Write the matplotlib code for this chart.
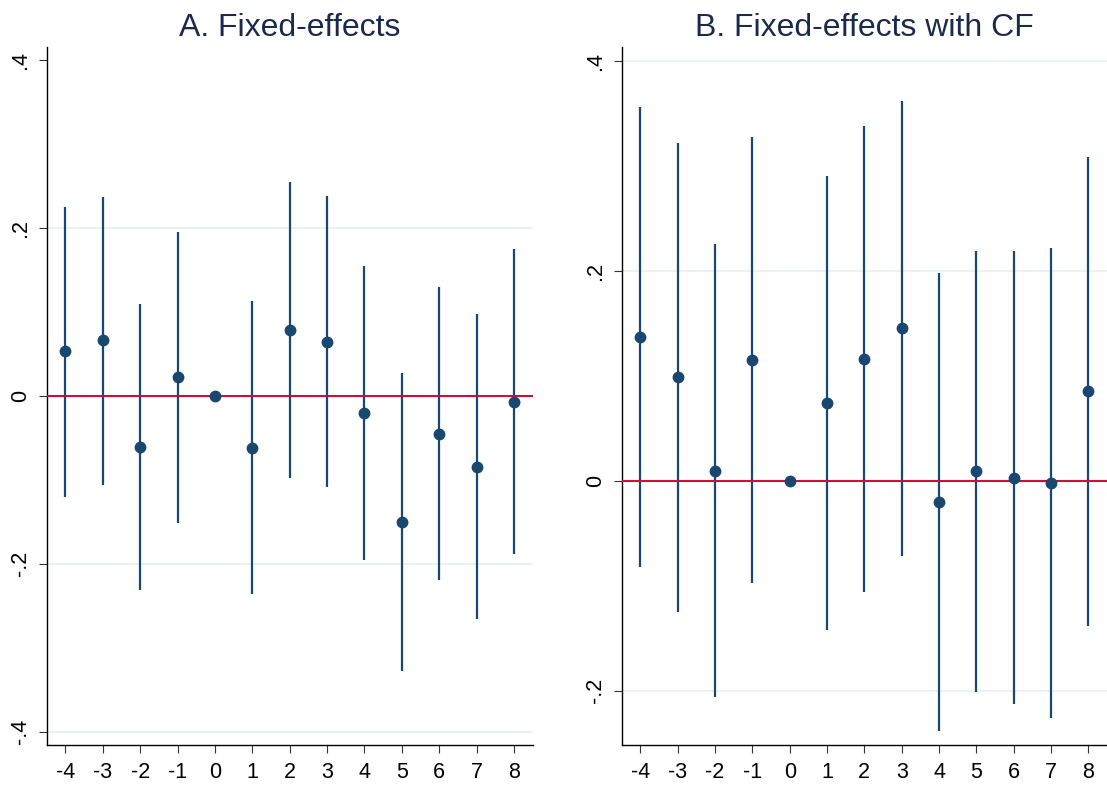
import matplotlib
matplotlib.use('Agg')
import matplotlib.pyplot as plt

plt.rcParams['font.family'] = ['Liberation Sans', 'DejaVu Sans']

# event time
periods = [-4, -3, -2, -1, 0, 1, 2, 3, 4, 5, 6, 7, 8]

# A. Fixed-effects
a_coef = [0.053, 0.066, -0.061, 0.023, 0.0, -0.062, 0.079, 0.064, -0.021, -0.150, -0.045, -0.085, -0.007]
a_lo = [-0.120, -0.106, -0.231, -0.151, 0.0, -0.236, -0.098, -0.109, -0.195, -0.328, -0.219, -0.266, -0.188]
a_hi = [0.225, 0.237, 0.110, 0.195, 0.0, 0.113, 0.255, 0.238, 0.155, 0.027, 0.130, 0.097, 0.175]

# B. Fixed-effects with CF
b_coef = [0.137, 0.099, 0.009, 0.115, 0.0, 0.074, 0.116, 0.145, -0.020, 0.009, 0.003, -0.002, 0.085]
b_lo = [-0.082, -0.125, -0.206, -0.097, 0.0, -0.142, -0.106, -0.072, -0.238, -0.201, -0.213, -0.226, -0.138]
b_hi = [0.356, 0.322, 0.225, 0.327, 0.0, 0.290, 0.338, 0.362, 0.198, 0.219, 0.219, 0.222, 0.308]

a_ticks = [-0.4, -0.2, 0, 0.2, 0.4]
a_ticklabels = ['-.4', '-.2', '0', '.2', '.4']
b_ticks = [-0.2, 0, 0.2, 0.4]
b_ticklabels = ['-.2', '0', '.2', '.4']

navy = '#1a476f'
red = '#c8103a'
grid_col = '#eaf1f3'
title_col = '#1b2a4c'

W, H = 1107, 787
fig = plt.figure(figsize=(W / 100, H / 100), dpi=100)
ax1 = fig.add_axes([46.7 / W, (H - 745) / H, 486 / W, 698.3 / H])
ax2 = fig.add_axes([621.7 / W, (H - 745) / H, 485.3 / W, 698.3 / H])


def draw_panel(ax, coef, lo, hi, ticks, ticklabels, grids, ylim, title):
    for g in grids:
        ax.axhline(g, color=grid_col, lw=1.3, zorder=0)
    ax.vlines(periods, lo, hi, color=navy, lw=1.6, zorder=2)
    ax.axhline(0, color=red, lw=1.5, zorder=3)
    ax.plot(periods, coef, 'o', color=navy, ms=7.5, zorder=4)

    ax.set_xlim(-4.5, 8.5)
    ax.set_ylim(*ylim)
    ax.set_xticks(periods)
    ax.set_xticklabels([str(p) for p in periods])
    ax.set_yticks(ticks)
    ax.set_yticklabels(ticklabels, rotation=90, va='center')
    ax.tick_params(axis='both', labelsize=15.5, length=6, width=0.8, color='#333333')
    ax.tick_params(axis='x', pad=6)
    ax.tick_params(axis='y', pad=5)
    for s in ['top', 'right']:
        ax.spines[s].set_visible(False)
    for s in ['left', 'bottom']:
        ax.spines[s].set_linewidth(1.0)
    ax.set_title(title, fontsize=23, color=title_col, pad=8)


draw_panel(ax1, a_coef, a_lo, a_hi, a_ticks, a_ticklabels,
           [-0.4, -0.2, 0.2], (-0.416, 0.416), 'A. Fixed-effects')
draw_panel(ax2, b_coef, b_lo, b_hi, b_ticks, b_ticklabels,
           [-0.2, 0.2, 0.4], (-0.2517, 0.4133), 'B. Fixed-effects with CF')

fig.savefig('out.png', dpi=100)
